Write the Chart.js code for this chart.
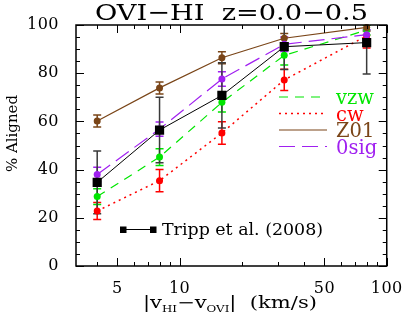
<!DOCTYPE html>
<html>
<head>
<meta charset="utf-8">
<script src="https://cdn.jsdelivr.net/npm/chart.js@4.4.1/dist/chart.umd.min.js"></script>
<style>
    html, body { margin: 0; padding: 0; background: #ffffff; }
    #wrap { width: 407px; height: 327px; }
</style>
</head>
<body>
<div id="wrap"><canvas id="chart" width="407" height="327"></canvas></div>
<script>
const VELOCITY = [4, 8, 16, 32, 80];

const VZW = [28.8, 45.2, 67.9, 87.4, 97.9];
const VZW_ERR = [3.3, 3.5, 4.0, 4.0, 2.0];

const CW = [22.8, 35.4, 55.2, 77.2, 95.5];
const CW_ERR = [3.5, 4.6, 4.7, 4.4, 5.0];

const Z01 = [60.2, 73.9, 86.4, 94.5, 99.0];
const Z01_ERR = [2.5, 2.5, 2.5, 2.0, 1.5];

const OSIG = [38.0, 56.8, 77.6, 92.0, 96.0];
const OSIG_ERR = [3.0, 3.0, 3.0, 3.0, 2.0];

const TRIPP = [34.7, 56.4, 70.8, 91.0, 92.7];
const TRIPP_ERR = [13.0, 13.6, 13.5, 9.5, 13.0];

const X_LABEL_TICKS = [5, 10, 50, 100];
const X_MINOR_TICKS = [4, 6, 7, 8, 9, 20, 30, 40, 60, 70, 80, 90];

const SERIF = '"DejaVu Serif", "Liberation Serif", serif';

const SERIES = [
    { key: 'tripp', label: 'Tripp et al. (2008)', values: TRIPP, errors: TRIPP_ERR, color: '#000000', errColor: '#3a3a3a', dash: [], width: 1, point: 'rect', radius: 6.5 },
    { key: 'osig', label: '0sig', values: OSIG, errors: OSIG_ERR, color: '#a020f0', errColor: '#a020f0', dash: [16, 7], width: 1.2, point: 'circle', radius: 3.5 },
    { key: 'z01', label: 'Z01', values: Z01, errors: Z01_ERR, color: '#7a4518', errColor: '#7a4518', dash: [], width: 1.2, point: 'circle', radius: 3.5 },
    { key: 'vzw', label: 'vzw', values: VZW, errors: VZW_ERR, color: '#00e600', errColor: '#00e600', dash: [9, 7], width: 1.2, point: 'circle', radius: 3.5 },
    { key: 'cw', label: 'cw', values: CW, errors: CW_ERR, color: '#ff0000', errColor: '#ff0000', dash: [2, 4], width: 1.5, point: 'circle', radius: 3.5 }
];

const LEGEND_ORDER = ['vzw', 'cw', 'z01', 'osig'];

function getSeries(key) {
    return SERIES.find(item => item.key === key);
}

// draw text stretched horizontally so it spans `width` pixels from `x`
function fitText(ctx, text, x, y, width) {
    const natural = ctx.measureText(text).width;
    ctx.save();
    ctx.translate(x, y);
    ctx.scale(width / natural, 1);
    ctx.textAlign = 'left';
    ctx.fillText(text, 0, 0);
    ctx.restore();
}

const errorBars = {
    id: 'errorBars',
    beforeDraw(chart) {
        // slightly wider tick digits, like the original plotting font
        const ctx = chart.ctx;
        ctx.font = `16px ${SERIF}`;
        ctx.letterSpacing = '0px';
        const w = ctx.measureText('100').width;
        ctx.letterSpacing = `${Math.max(0, (32 - w) / 3)}px`;
    },
    beforeDatasetsDraw(chart) {
        const { ctx, chartArea, scales } = chart;
        ctx.save();
        ctx.beginPath();
        ctx.rect(chartArea.left, chartArea.top, chartArea.right - chartArea.left, chartArea.bottom - chartArea.top);
        ctx.clip();
        SERIES.slice().reverse().forEach(series => {
            ctx.strokeStyle = series.errColor;
            ctx.lineWidth = 1.5;
            ctx.setLineDash([]);
            series.values.forEach((value, index) => {
                const x = scales.x.getPixelForValue(VELOCITY[index]);
                const top = scales.y.getPixelForValue(value + series.errors[index]);
                const bottom = scales.y.getPixelForValue(value - series.errors[index]);
                ctx.beginPath();
                ctx.moveTo(x, top);
                ctx.lineTo(x, bottom);
                ctx.moveTo(x - 4, top);
                ctx.lineTo(x + 4, top);
                ctx.moveTo(x - 4, bottom);
                ctx.lineTo(x + 4, bottom);
                ctx.stroke();
            });
        });
        ctx.restore();
    }
};

const frameAndText = {
    id: 'frameAndText',
    afterDraw(chart) {
        const { ctx, chartArea, scales } = chart;
        const { left, right, top, bottom } = chartArea;
        ctx.save();
        ctx.letterSpacing = '0px';
        ctx.setLineDash([]);
        ctx.strokeStyle = '#000000';
        ctx.lineWidth = 1.5;
        ctx.strokeRect(left, top, right - left, bottom - top);

        // inward ticks on all sides
        ctx.lineWidth = 1;
        ctx.beginPath();
        const xTick = (value, len) => {
            const x = Math.round(scales.x.getPixelForValue(value)) + 0.5;
            ctx.moveTo(x, bottom);
            ctx.lineTo(x, bottom - len);
            ctx.moveTo(x, top);
            ctx.lineTo(x, top + len);
        };
        X_LABEL_TICKS.forEach(value => xTick(value, 8));
        X_MINOR_TICKS.forEach(value => xTick(value, 4));
        for (let v = 0; v <= 100; v += 5) {
            const y = Math.round(scales.y.getPixelForValue(v)) + 0.5;
            const len = v % 20 === 0 ? 8 : 4;
            ctx.moveTo(left, y);
            ctx.lineTo(left + len, y);
            ctx.moveTo(right, y);
            ctx.lineTo(right - len, y);
        }
        ctx.stroke();

        // title
        ctx.fillStyle = '#000000';
        ctx.textBaseline = 'alphabetic';
        ctx.font = `23px ${SERIF}`;
        fitText(ctx, 'OVI\u2212HI  z=0.0\u22120.5', 95, 20, 273);

        // y title
        ctx.save();
        ctx.translate(17, 172);
        ctx.rotate(-Math.PI / 2);
        ctx.font = `15px ${SERIF}`;
        fitText(ctx, '% Aligned', 0, 0, 77);
        ctx.restore();

        // x title with subscripts
        const parts = [
            { text: '|v', sub: false },
            { text: 'HI', sub: true },
            { text: '\u2212v', sub: false },
            { text: 'OVI', sub: true },
            { text: '|  (km/s)', sub: false }
        ];
        const mainFont = `16px ${SERIF}`;
        const subFont = `9px ${SERIF}`;
        let natural = 0;
        parts.forEach(part => {
            ctx.font = part.sub ? subFont : mainFont;
            natural += ctx.measureText(part.text).width;
        });
        ctx.save();
        ctx.translate(143, 0);
        ctx.scale(174 / natural, 1);
        let cursor = 0;
        ctx.textAlign = 'left';
        parts.forEach(part => {
            ctx.font = part.sub ? subFont : mainFont;
            ctx.fillText(part.text, cursor, part.sub ? 312 : 308);
            cursor += ctx.measureText(part.text).width;
        });
        ctx.restore();

        // model legend
        ctx.font = `19.5px ${SERIF}`;
        LEGEND_ORDER.forEach((key, index) => {
            const series = getSeries(key);
            const y = 97 + index * 16.5;
            ctx.strokeStyle = series.color;
            ctx.lineWidth = series.width;
            ctx.setLineDash(series.dash);
            ctx.beginPath();
            ctx.moveTo(279, y);
            ctx.lineTo(327, y);
            ctx.stroke();
            ctx.setLineDash([]);
            ctx.fillStyle = series.color;
            ctx.textAlign = 'left';
            ctx.fillText(series.label, 336, y + 7);
        });

        // observation legend
        const tripp = getSeries('tripp');
        ctx.strokeStyle = '#000000';
        ctx.lineWidth = 1;
        ctx.beginPath();
        ctx.moveTo(123, 229.5);
        ctx.lineTo(153, 229.5);
        ctx.stroke();
        ctx.fillStyle = '#000000';
        ctx.fillRect(120, 226.5, 6.5, 6.5);
        ctx.fillRect(150, 226.5, 6.5, 6.5);
        ctx.font = `16px ${SERIF}`;
        fitText(ctx, tripp.label, 162, 235, 161);
        ctx.restore();
    }
};

new Chart(document.getElementById('chart'), {
    type: 'line',
    data: {
        datasets: SERIES.map(series => ({
            label: series.label,
            data: series.values.map((value, index) => ({ x: VELOCITY[index], y: value })),
            borderColor: series.color,
            backgroundColor: series.color,
            borderWidth: series.width,
            borderDash: series.dash,
            pointStyle: series.point,
            pointRadius: series.radius,
            pointBorderWidth: 0,
            tension: 0,
            fill: false,
            clip: 8
        }))
    },
    options: {
        responsive: false,
        animation: false,
        layout: { padding: { left: 0, right: 19, top: 25, bottom: 0 } },
        plugins: {
            legend: { display: false },
            title: { display: false },
            tooltip: { enabled: false }
        },
        scales: {
            x: {
                type: 'logarithmic',
                min: 3.16,
                max: 100,
                grid: { display: false },
                border: { display: false },
                afterBuildTicks(scale) {
                    scale.ticks = X_LABEL_TICKS.map(value => ({ value }));
                },
                afterFit(scale) {
                    scale.height = 61;
                },
                ticks: {
                    autoSkip: false,
                    maxRotation: 0,
                    padding: 5,
                    color: '#000000',
                    font: { family: SERIF, size: 16 },
                    callback(value) {
                        return String(value);
                    }
                }
            },
            y: {
                min: 0,
                max: 100,
                grid: { display: false },
                border: { display: false },
                afterFit(scale) {
                    scale.width = 76;
                },
                ticks: {
                    stepSize: 20,
                    padding: 9,
                    color: '#000000',
                    font: { family: SERIF, size: 16 }
                }
            }
        }
    },
    plugins: [errorBars, frameAndText]
});
</script>
</body>
</html>
